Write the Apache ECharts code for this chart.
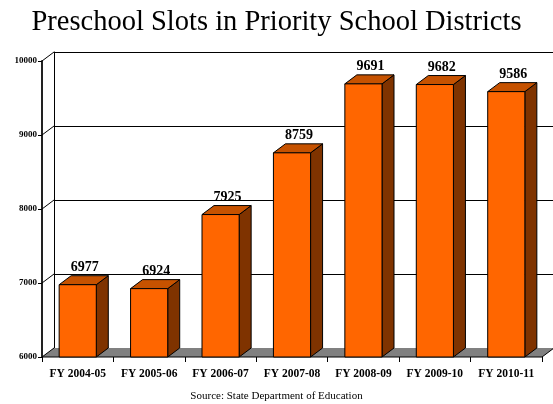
<!DOCTYPE html>
<html>
<head>
<meta charset="utf-8">
<script src="https://cdn.jsdelivr.net/npm/echarts@6/dist/echarts.min.js"></script>
<style>
  html, body { margin: 0; padding: 0; background: #ffffff; }
  #chart { width: 553px; height: 404px; }
</style>
</head>
<body>
<div id="chart"></div>
<script>
// Fiscal years and preschool slot counts
const categories = ['FY 2004-05', 'FY 2005-06', 'FY 2006-07', 'FY 2007-08', 'FY 2008-09', 'FY 2009-10', 'FY 2010-11'];
const slots = [6977, 6924, 7925, 8759, 9691, 9682, 9586];
const yTicks = [6000, 7000, 8000, 9000, 10000];

// depth offset of the pseudo-3D box (back plane relative to front plane)
const DX = 12, DY = -9;
const SERIF = '"Liberation Serif", "Times New Roman", serif';

const chart = echarts.init(document.getElementById('chart'), null, { renderer: 'canvas' });

function renderBar(params, api) {
  const idx = api.value(0);
  const val = api.value(1);
  const top = api.coord([idx, val]);
  const base = api.coord([idx, yTicks[0]]);
  const bw = api.size([1, 0])[0] * 0.52;
  const x0 = top[0] - bw / 2, x1 = top[0] + bw / 2;
  const stroke = { stroke: '#000', lineWidth: 1 };
  return {
    type: 'group',
    children: [
      { type: 'polygon', shape: { points: [[x1, top[1]], [x1 + DX, top[1] + DY], [x1 + DX, base[1] + DY], [x1, base[1]]] },
        style: Object.assign({ fill: '#7f3300' }, stroke) },
      { type: 'polygon', shape: { points: [[x0, top[1]], [x0 + DX, top[1] + DY], [x1 + DX, top[1] + DY], [x1, top[1]]] },
        style: Object.assign({ fill: '#c65200' }, stroke) },
      { type: 'rect', shape: { x: x0, y: top[1], width: bw, height: base[1] - top[1] },
        style: Object.assign({ fill: '#ff6600' }, stroke) },
      { type: 'text', x: top[0] + 7, y: top[1] - 17,
        style: { text: String(val), fill: '#000', font: 'bold 14px ' + SERIF, align: 'center', verticalAlign: 'middle' } }
    ]
  };
}

// Floor of the box
function renderFloor(params, api) {
  const cs = params.coordSys;
  const yb = cs.y + cs.height;
  const xl = cs.x, xr = cs.x + cs.width;
  return {
    type: 'group',
    children: [
      { type: 'polygon', shape: { points: [[xl, yb], [xr, yb], [xr + DX, yb + DY], [xl + DX, yb + DY]] },
        style: { fill: '#808080' } },
      { type: 'polyline', shape: { points: [[xl, yb], [xr, yb], [xr + DX, yb + DY]] },
        style: { stroke: '#000', lineWidth: 1, fill: null } }
    ]
  };
}

// Diagonal edge joining a front-axis tick to the back wall
function renderConnector(params, api) {
  const p = api.coord([0, api.value(1)]);
  const xl = params.coordSys.x;
  return {
    type: 'polyline',
    shape: { points: [[xl, p[1]], [xl + DX, p[1] + DY]] },
    style: { stroke: '#000', lineWidth: 1, fill: null }
  };
}

const option = {
  backgroundColor: '#ffffff',
  animation: false,
  title: {
    text: 'Preschool Slots in Priority School Districts',
    left: 'center',
    top: 3,
    textStyle: { fontFamily: SERIF, fontSize: 28.5, fontWeight: 'normal', color: '#000' }
  },
  graphic: [{
    type: 'text', left: 'center', top: 391,
    style: { text: 'Source: State Department of Education', font: '11px ' + SERIF, fill: '#000' }
  }],
  grid: [
    { left: 42, top: 61, width: 500, height: 296, containLabel: false, outerBoundsMode: 'none' },
    { left: 42 + DX, top: 61 + DY, width: 500, height: 296, containLabel: false, outerBoundsMode: 'none' }
  ],
  xAxis: [
    {
      type: 'category', gridIndex: 0, data: categories,
      axisLine: { show: false },
      axisTick: { show: true, length: 5, lineStyle: { color: '#000' } },
      axisLabel: { margin: 11, fontFamily: SERIF, fontWeight: 'bold', fontSize: 11.5, color: '#000', interval: 0 }
    },
    { type: 'category', gridIndex: 1, data: categories, show: false }
  ],
  yAxis: [
    {
      type: 'value', gridIndex: 0, min: 6000, max: 10000, interval: 1000,
      axisLine: { show: true, lineStyle: { color: '#222', width: 2 } },
      axisTick: { show: true, length: 4, lineStyle: { color: '#000' } },
      axisLabel: { margin: 5, fontFamily: SERIF, fontWeight: 'bold', fontSize: 9, color: '#000',
                   formatter: function (v) { return String(v); } },
      splitLine: { show: false }
    },
    {
      type: 'value', gridIndex: 1, min: 6000, max: 10000, interval: 1000,
      axisLine: { show: true, lineStyle: { color: '#000', width: 1 } },
      axisTick: { show: false },
      axisLabel: { show: false },
      splitLine: { show: true, lineStyle: { color: '#000', width: 1 } }
    }
  ],
  series: [
    {
      type: 'custom', name: 'floor', xAxisIndex: 0, yAxisIndex: 0, z: 3,
      renderItem: renderFloor, data: [[0, 6000]], silent: true
    },
    {
      type: 'custom', name: 'edges', xAxisIndex: 0, yAxisIndex: 0, z: 4,
      renderItem: renderConnector, data: yTicks.map(function (v) { return [0, v]; }), silent: true
    },
    {
      type: 'custom', name: 'Preschool Slots', xAxisIndex: 0, yAxisIndex: 0, z: 5,
      renderItem: renderBar,
      data: slots.map((v, i) => [i, v])
    }
  ]
};

chart.setOption(option);
</script>
</body>
</html>
